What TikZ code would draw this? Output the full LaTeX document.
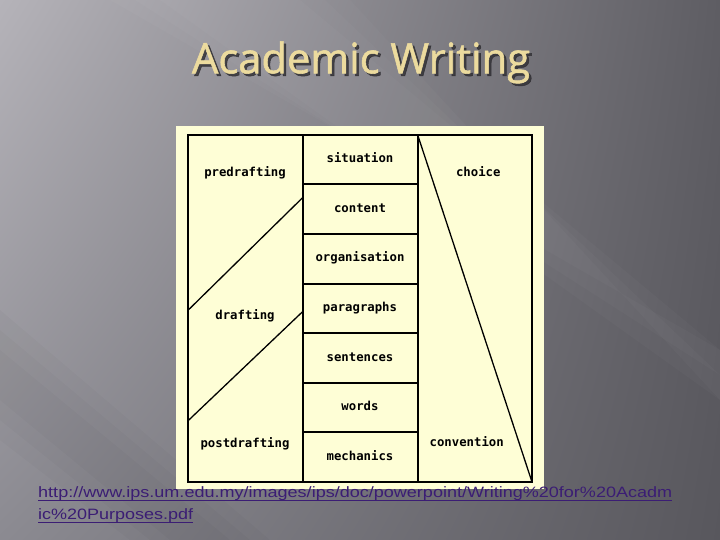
\documentclass[tikz,border=0pt]{standalone}
\usepackage{fontspec}
\usetikzlibrary{shadings}
\setmainfont{Liberation Sans}
\newfontfamily\titlefont[FakeBold=1.3]{Open Sans}
\newfontfamily\labelfont{DejaVu Sans Mono}
\definecolor{bgUL}{HTML}{B5B3B9}
\definecolor{bgUR}{HTML}{5E5D63}
\definecolor{bgLL}{HTML}{8B8A91}
\definecolor{bgLR}{HTML}{58575D}
\definecolor{card}{HTML}{FEFED6}
\definecolor{titletan}{HTML}{ECDB9E}
\definecolor{titleshadow}{HTML}{2E2D31}
\definecolor{linkpurple}{HTML}{3B1D74}
\begin{document}
\begin{tikzpicture}[x=1pt,y=-1pt,
  lab/.style={font=\labelfont\bfseries\fontsize{12.3}{14}\selectfont, inner sep=0pt, anchor=base},
  gridline/.style={line width=1.9pt, black},
  diagline/.style={line width=1.3pt, black},
  linktext/.style={font=\fontsize{15}{18}\selectfont, text=linkpurple, inner sep=0pt, anchor=base west},
  linkrule/.style={draw=linkpurple, line width=1.2pt},
  streak/.style={fill=white, opacity=0.025}]
\useasboundingbox (0,0) rectangle (720,540);
% background
\shade[upper left=bgUL, upper right=bgUR, lower left=bgLL, lower right=bgLR] (0,0) rectangle (720,540);
\foreach \w in {0,25,50}
  \fill[streak] (160-\w,0) -- (300+\w,0) -- (720,350+\w) -- (720,400-\w) -- cycle;
\foreach \w in {0,20,40}
  \fill[black, opacity=0.02] (0,350-\w) -- (0,400+\w) -- (170-\w,540) -- (230+\w,540) -- cycle;
% title
\node[font=\titlefont\fontsize{42}{48}\selectfont, text=titleshadow, opacity=0.8, inner sep=0pt, anchor=base] (titleshadow) at (363.5,75.8) {\resizebox{338pt}{\height}{Academic Writing}};
\node[font=\titlefont\fontsize{42}{48}\selectfont, text=titletan, inner sep=0pt, anchor=base] (title) at (361,73.3) {\resizebox{338pt}{\height}{Academic Writing}};
% card
\fill[card] (176,126) rectangle (544,489);
% table
\coordinate (tl) at (188.3,135);
\coordinate (br) at (532,482);
\draw[gridline] (tl) rectangle (br);
\draw[gridline] (303.3,135) -- (303.3,482);
\draw[gridline] (417.7,135) -- (417.7,482);
\foreach \yy in {184,234,284,333.3,383,432.3}
  \draw[gridline] (303.3,\yy) -- (417.7,\yy);
\draw[diagline] (188.3,310) -- (303.3,197);
\draw[diagline] (188.3,420.5) -- (303.3,311);
\draw[diagline] (417.7,135) -- (532,482);
% labels
\node[lab] (predrafting) at (245,176.7) {predrafting};
\node[lab] (drafting) at (245,319) {drafting};
\node[lab] (postdrafting) at (245,447.3) {postdrafting};
\node[lab] (situation) at (360,162.7) {situation};
\node[lab] (content) at (360,212.3) {content};
\node[lab] (organisation) at (360,261.7) {organisation};
\node[lab] (paragraphs) at (360,311.7) {paragraphs};
\node[lab] (sentences) at (360,361) {sentences};
\node[lab] (words) at (360,410) {words};
\node[lab] (mechanics) at (360,460) {mechanics};
\node[lab] (choice) at (478.3,176.7) {choice};
\node[lab] (convention) at (466.7,446.7) {convention};
% link
\node[linktext] (link1) at (38,497.5) {\resizebox{634pt}{\height}{http://www.ips.um.edu.my/images/ips/doc/powerpoint/Writing\%20for\%20Acadm}};
\node[linktext] (link2) at (38,519.5) {\resizebox{155pt}{\height}{ic\%20Purposes.pdf}};
\draw[linkrule] ([yshift=-3pt]link1.base west) -- ([yshift=-3pt]link1.base east);
\draw[linkrule] ([yshift=-3pt]link2.base west) -- ([yshift=-3pt]link2.base east);
\end{tikzpicture}
\end{document}
